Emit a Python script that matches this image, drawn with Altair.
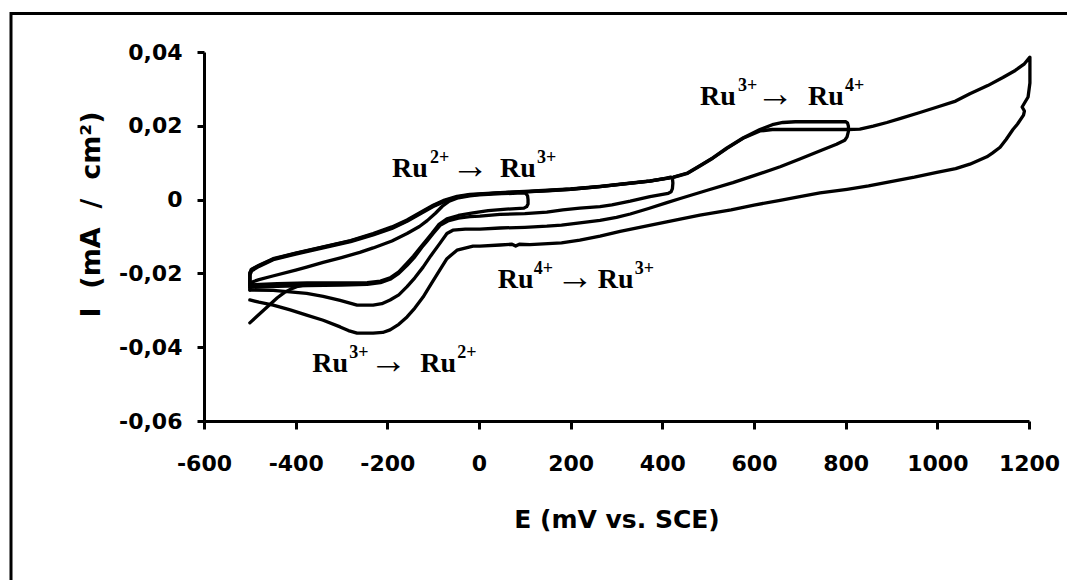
import altair as alt
import pandas as pd

# ---------------- data ----------------
# initial transient at the start of the scan
E_start = [-500, -485, -470, -455, -440, -425, -410, -395, -380]
I_start = [-0.0334, -0.0317, -0.0300, -0.0283, -0.0266, -0.0252, -0.0242, -0.0235, -0.0231]

# cycle 1: -500 -> 100 -> -500 mV
E_c1 = [-500, -497, -480, -450, -400, -376, -340, -300, -260, -231, -190, -157, -130, -113, -95, -80, -65, -45, -20, 0, 50, 95,
        102, 106, 107, 107, 104, 98,
        60, 20, -13, -45, -70, -88, -103, -115, -128, -143, -157, -175, -194, -215, -244, -300, -375, -440, -500]
I_c1 = [-0.0231, -0.0224, -0.0217, -0.0207, -0.0191, -0.0183, -0.0170, -0.0157, -0.0143, -0.0131, -0.0112, -0.0092, -0.0073, -0.0057, -0.0037, -0.0018, -0.0004, 0.0005, 0.0010, 0.0013, 0.0016, 0.0018,
        0.0017, 0.0010, 0.0000, -0.0012, -0.0019, -0.0023,
        -0.0026, -0.0030, -0.0036, -0.0043, -0.0052, -0.0068, -0.0092, -0.0110, -0.0130, -0.0153, -0.0172, -0.0196, -0.0212, -0.0221, -0.0225, -0.0226, -0.0226, -0.0228, -0.0231]

# cycle 2: -500 -> 420 -> -500 mV
E_c2 = [-500, -500, -496, -480, -449, -400, -340, -280, -231, -190, -157, -130, -100, -75, -48, -20, 46, 100, 150, 200, 264, 308, 373, 410, 418,
        422, 423, 422, 419, 413,
        373, 330, 290, 264, 220, 183, 148, 100, 46, 2, -20, -45, -68, -85, -100, -113, -125, -140, -157, -175, -194, -215, -244, -300, -375, -440, -500]
I_c2 = [-0.0231, -0.0205, -0.0193, -0.0181, -0.0163, -0.0148, -0.0131, -0.0114, -0.0096, -0.0078, -0.0059, -0.0040, -0.0019, -0.0005, 0.0006, 0.0012, 0.0018, 0.0021, 0.0024, 0.0028, 0.0035, 0.0041, 0.0050, 0.0058, 0.0061,
        0.0058, 0.0045, 0.0030, 0.0021, 0.0017,
        0.0008, -0.0004, -0.0014, -0.0019, -0.0023, -0.0028, -0.0034, -0.0038, -0.0040, -0.0045, -0.0046, -0.0050, -0.0058, -0.0070, -0.0092, -0.0112, -0.0130, -0.0155, -0.0178, -0.0200, -0.0216, -0.0225, -0.0230, -0.0232, -0.0233, -0.0235, -0.0238]

# cycle 3: -500 -> 800 -> -500 mV
E_c3 = [-500, -500, -497, -480, -449, -400, -340, -280, -231, -190, -157, -130, -100, -75, -48, -20, 46, 100, 200, 264, 308, 373, 424, 455, 482, 510, 541, 576, 613, 640, 663, 690, 800,
        804, 806, 806, 803, 798,
        780, 750, 700, 657, 600, 554, 500, 439, 410, 370, 330, 300, 264, 220, 180, 148, 100, 46, 2, -30, -57, -70, -85, -105, -122, -140, -157, -175, -194, -212, -231, -266, -303, -340, -376, -449, -500]
I_c3 = [-0.0238, -0.0200, -0.0189, -0.0178, -0.0160, -0.0145, -0.0128, -0.0111, -0.0092, -0.0074, -0.0055, -0.0036, -0.0015, -0.0001, 0.0009, 0.0014, 0.0019, 0.0022, 0.0029, 0.0036, 0.0042, 0.0051, 0.0061, 0.0072, 0.0092, 0.0113, 0.0140, 0.0167, 0.0190, 0.0203, 0.0209, 0.0211, 0.0211,
        0.0208, 0.0199, 0.0185, 0.0170, 0.0161,
        0.0150, 0.0135, 0.0110, 0.0089, 0.0065, 0.0046, 0.0026, 0.0003, -0.0008, -0.0024, -0.0039, -0.0048, -0.0056, -0.0063, -0.0069, -0.0072, -0.0075, -0.0077, -0.0080, -0.0080, -0.0083, -0.0092, -0.0118, -0.0152, -0.0183, -0.0212, -0.0236, -0.0258, -0.0272, -0.0282, -0.0286, -0.0286, -0.0273, -0.0262, -0.0254, -0.0246, -0.0245]

# cycle 4: -500 -> 1200 -> -500 mV
E_c4 = [-500, -500, -494, -480, -449, -400, -340, -280, -231, -190, -157, -130, -100, -75, -48, -20, 46, 100, 200, 264, 308, 373, 424, 455, 482, 510, 541, 576, 613, 640, 663, 700, 760, 805, 831, 860, 890, 920, 962, 1000, 1040, 1071, 1110, 1143, 1170, 1190, 1202,
        1202, 1198, 1185, 1190, 1188, 1175, 1165, 1150, 1137, 1120, 1108, 1071, 1040, 999, 950, 890, 850, 803, 744, 700, 657, 600, 550, 482, 439, 380, 308, 264, 220, 180, 111, 88, 80, 72, 46, 2, -13, -48, -70, -85, -105, -122, -140, -157, -175, -194, -210, -231, -266, -285, -303, -340, -376, -412, -449, -480, -500]
I_c4 = [-0.0245, -0.0198, -0.0188, -0.0179, -0.0161, -0.0146, -0.0129, -0.0112, -0.0094, -0.0076, -0.0057, -0.0038, -0.0017, -0.0003, 0.0007, 0.0013, 0.0018, 0.0021, 0.0028, 0.0035, 0.0041, 0.0050, 0.0060, 0.0071, 0.0091, 0.0112, 0.0139, 0.0166, 0.0186, 0.0190, 0.0190, 0.0190, 0.0190, 0.0190, 0.0191, 0.0199, 0.0209, 0.0220, 0.0236, 0.0251, 0.0267, 0.0287, 0.0309, 0.0331, 0.0350, 0.0368, 0.0386,
        0.0316, 0.0278, 0.0251, 0.0240, 0.0229, 0.0205, 0.0190, 0.0163, 0.0142, 0.0126, 0.0116, 0.0096, 0.0084, 0.0074, 0.0061, 0.0047, 0.0037, 0.0028, 0.0018, 0.0008, -0.0002, -0.0015, -0.0028, -0.0042, -0.0053, -0.0068, -0.0086, -0.0099, -0.0110, -0.0117, -0.0122, -0.0121, -0.0126, -0.0121, -0.0123, -0.0126, -0.0126, -0.0137, -0.0160, -0.0190, -0.0230, -0.0264, -0.0294, -0.0318, -0.0338, -0.0353, -0.0360, -0.0362, -0.0362, -0.0355, -0.0345, -0.0327, -0.0313, -0.0299, -0.0286, -0.0278, -0.0272]

# annotations: start potential and baseline current, text pieces and superscripts
ann_E = [-190, 482, 41, -364]
ann_I = [0.0061, 0.0256, -0.0240, -0.0468]
ann_ru = [["Ru", "Ru"], ["Ru", "Ru"], ["Ru", "Ru"], ["Ru", "Ru"]]
ann_sup = [["2+", "3+"], ["3+", "4+"], ["4+", "3+"], ["3+", "2+"]]
ann_arrow = ["\u2192", "\u2192", "\u2192", "\u2192"]
# horizontal layout of the pieces inside each label (pixels from the label start)
ru_dx = [[0, 108], [0, 108], [0, 100], [0, 108]]
sup_dx = [[38, 145], [38, 145], [36, 137], [37, 145]]
arrow_dx = [59, 56, 58, 57]

# axes
x_ticks = [-600, -400, -200, 0, 200, 400, 600, 800, 1000, 1200]
x_tick_labels = ["-600", "-400", "-200", "0", "200", "400", "600", "800", "1000", "1200"]
y_ticks = [-0.06, -0.04, -0.02, 0.0, 0.02, 0.04]
y_tick_labels = ["-0,06", "-0,04", "-0,02", "0", "0,02", "0,04"]

# ---------------- build tables ----------------
X_DOMAIN = [-600, 1200]
PLOT_W = 825
MV_PER_PX = (X_DOMAIN[1] - X_DOMAIN[0]) / PLOT_W

segments = [("start", E_start, I_start), ("c1", E_c1, I_c1), ("c2", E_c2, I_c2),
            ("c3", E_c3, I_c3), ("c4", E_c4, I_c4)]
rows = []
for name, es, iss in segments:
    for k, (e, i) in enumerate(zip(es, iss)):
        rows.append({"seg": name, "k": k, "E": e, "I": i})
df = pd.DataFrame(rows)


def pieces(texts_per_label, dx_per_label):
    out = []
    for e0, i0, texts, dxs in zip(ann_E, ann_I, texts_per_label, dx_per_label):
        for t, d in zip(texts, dxs):
            out.append({"text": t, "E": e0 + d * MV_PER_PX, "I": i0})
    return pd.DataFrame(out)


ru_df = pieces(ann_ru, ru_dx)
sup_df = pieces(ann_sup, sup_dx)
arrow_df = pieces([[a] for a in ann_arrow], [[d] for d in arrow_dx])


def label_expr(ticks, labels):
    expr = "''"
    for t, l in reversed(list(zip(ticks, labels))):
        expr = f"abs(datum.value - ({t})) < 1e-6 ? '{l}' : " + expr
    return expr


xscale = alt.Scale(domain=X_DOMAIN, nice=False, zero=False)
yscale = alt.Scale(domain=[-0.06, 0.04], nice=False, zero=False)

xaxis = alt.Axis(values=x_ticks, labelExpr=label_expr(x_ticks, x_tick_labels), tickSize=8,
                 labelPadding=24, labelOverlap=False, labelFlush=False,
                 title="E (mV vs. SCE)", titleY=106, titleBaseline="alphabetic")
yaxis = alt.Axis(values=y_ticks, labelExpr=label_expr(y_ticks, y_tick_labels), tickSize=7,
                 labelPadding=15, labelOverlap=False, labelFlush=False,
                 title="I\u00a0\u00a0(mA\u00a0\u00a0/\u00a0\u00a0cm\u00b2)", titleAngle=270, titleX=-105, titleY=162,
                 titleAlign="center", titleBaseline="alphabetic", titleFontSize=27)

lines = alt.Chart(df).mark_line(color="black", strokeWidth=3.3, strokeJoin="round", strokeCap="round").encode(
    x=alt.X("E:Q", scale=xscale, axis=xaxis),
    y=alt.Y("I:Q", scale=yscale, axis=yaxis),
    detail="seg:N",
    order="k:Q",
)


def text_layer(data, **style):
    return alt.Chart(data).mark_text(align="left", baseline="alphabetic", color="black", **style).encode(
        x=alt.X("E:Q", scale=xscale),
        y=alt.Y("I:Q", scale=yscale),
        text="text:N",
    )


ru_text = text_layer(ru_df, font="Liberation Serif", fontWeight="bold", fontSize=28)
sup_text = text_layer(sup_df, font="Liberation Serif", fontWeight="bold", fontSize=18, dy=-14)
arrow_text = text_layer(arrow_df, font="Liberation Serif", fontWeight="normal", fontSize=38, dy=1)

frame = alt.Chart(pd.DataFrame({"a": [0]})).mark_rect(filled=False, stroke="black", strokeWidth=3).encode(
    x=alt.value(-193), x2=alt.value(873), y=alt.value(-38.5), y2=alt.value(548)
)

chart = alt.layer(frame, lines, ru_text, sup_text, arrow_text).properties(
    width=PLOT_W, height=369,
    autosize=alt.AutoSizeParams(type="none"),
    padding={"left": 204, "top": 52, "right": 38, "bottom": 159},
).configure_view(stroke="transparent").configure_axis(
    grid=False, domainColor="black", domainWidth=3, tickColor="black", tickWidth=3,
    labelFont="DejaVu Sans", labelFontWeight="bold", labelFontSize=22, labelColor="black",
    titleFont="DejaVu Sans", titleFontWeight="bold", titleFontSize=25, titleColor="black",
)

chart.save("out.html", embed_options={"renderer": "svg", "actions": False})
